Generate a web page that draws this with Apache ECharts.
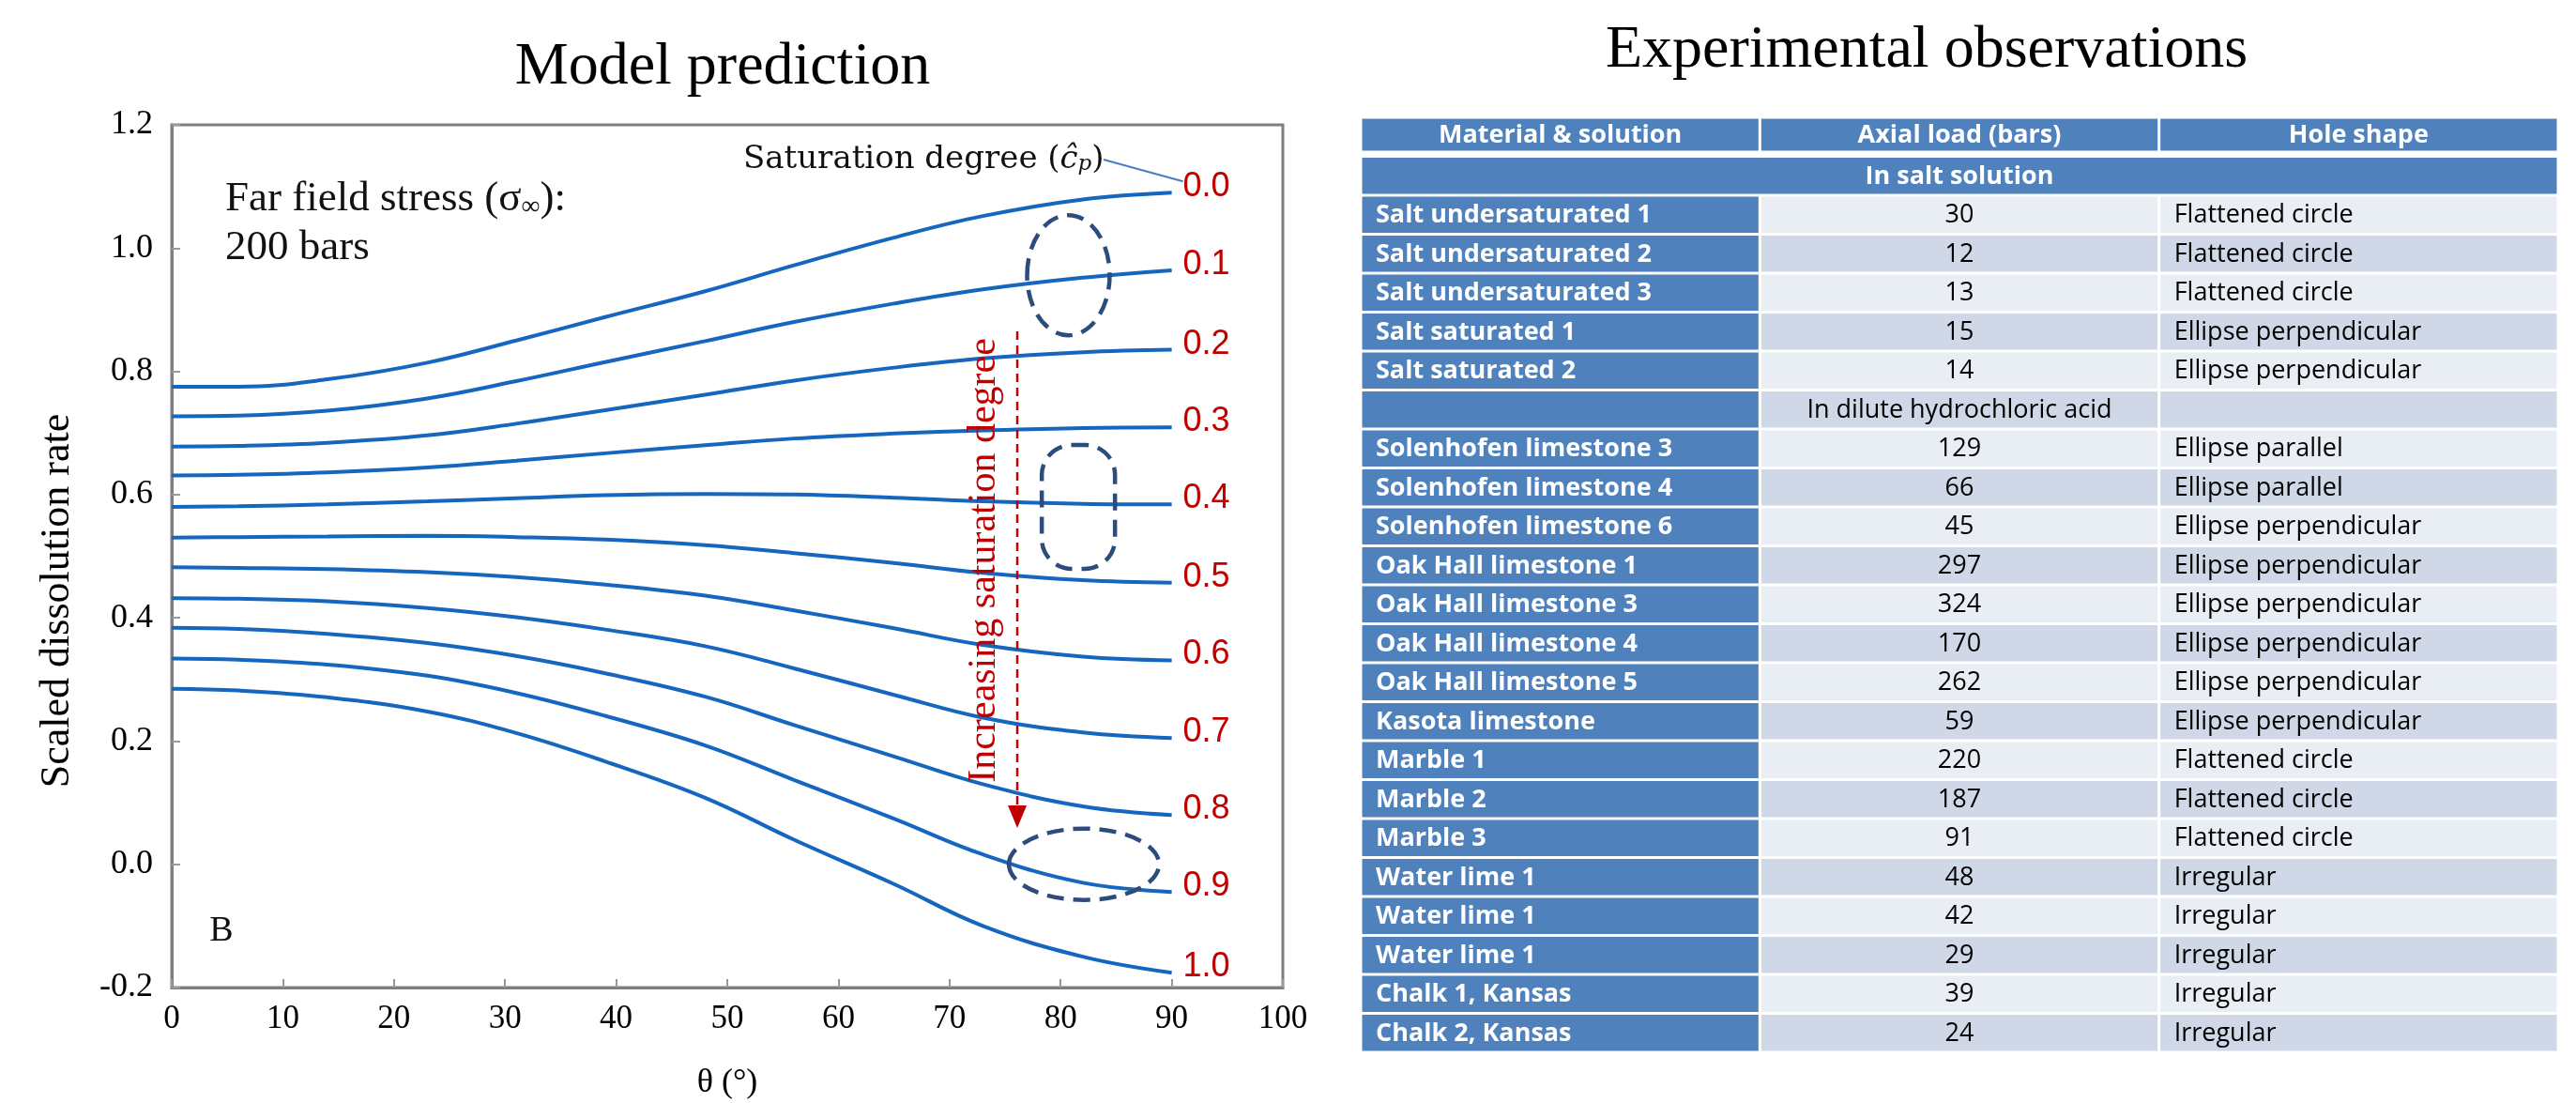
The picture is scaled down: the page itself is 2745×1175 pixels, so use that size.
<!DOCTYPE html>
<html>
<head>
<meta charset="utf-8">
<script src="https://cdn.jsdelivr.net/npm/echarts@6/dist/echarts.min.js"></script>
<style>
  html, body { margin: 0; padding: 0; background: #ffffff; }
  #chart { width: 2745px; height: 1175px; }
</style>
</head>
<body>
<div id="chart"></div>
<script>
// ---- Model prediction: scaled dissolution rate vs. hole angle θ ----
const thetaDeg = [0, 6, 14, 23, 31, 39, 48, 56, 65, 73, 82, 90];
const saturationLevels = ['0.0', '0.1', '0.2', '0.3', '0.4', '0.5', '0.6', '0.7', '0.8', '0.9', '1.0'];
const rateSat00 = [0.775, 0.775, 0.787, 0.814, 0.850, 0.888, 0.930, 0.972, 1.017, 1.052, 1.079, 1.090];
const rateSat01 = [0.727, 0.728, 0.736, 0.756, 0.784, 0.815, 0.849, 0.880, 0.910, 0.933, 0.952, 0.964];
const rateSat02 = [0.678, 0.679, 0.684, 0.696, 0.715, 0.737, 0.762, 0.785, 0.806, 0.821, 0.831, 0.835];
const rateSat03 = [0.631, 0.632, 0.636, 0.644, 0.655, 0.667, 0.680, 0.691, 0.699, 0.704, 0.708, 0.709];
const rateSat04 = [0.580, 0.581, 0.584, 0.589, 0.594, 0.599, 0.601, 0.600, 0.595, 0.589, 0.585, 0.584];
const rateSat05 = [0.530, 0.531, 0.532, 0.533, 0.531, 0.527, 0.518, 0.505, 0.489, 0.473, 0.461, 0.457];
const rateSat06 = [0.482, 0.481, 0.479, 0.474, 0.466, 0.454, 0.436, 0.412, 0.383, 0.356, 0.337, 0.331];
const rateSat07 = [0.432, 0.431, 0.427, 0.416, 0.401, 0.381, 0.354, 0.318, 0.275, 0.238, 0.214, 0.205];
const rateSat08 = [0.384, 0.382, 0.374, 0.359, 0.338, 0.310, 0.272, 0.226, 0.175, 0.130, 0.094, 0.080];
const rateSat09 = [0.334, 0.332, 0.324, 0.306, 0.278, 0.241, 0.193, 0.137, 0.074, 0.016, -0.030, -0.045];
const rateSat10 = [0.285, 0.282, 0.271, 0.248, 0.213, 0.167, 0.108, 0.040, -0.032, -0.100, -0.150, -0.176];
const rateCurves = [rateSat00, rateSat01, rateSat02, rateSat03, rateSat04, rateSat05,
                    rateSat06, rateSat07, rateSat08, rateSat09, rateSat10];
const yTickLabels = ['-0.2', '0.0', '0.2', '0.4', '0.6', '0.8', '1.0', '1.2'];
const xTickLabels = ['0', '10', '20', '30', '40', '50', '60', '70', '80', '90', '100'];

// ---- Experimental observations table ----
const tableHeader = ['Material & solution', 'Axial load (bars)', 'Hole shape'];
const saltGroupLabel = 'In salt solution';
const saltMaterials = ['Salt undersaturated 1', 'Salt undersaturated 2', 'Salt undersaturated 3',
                       'Salt saturated 1', 'Salt saturated 2'];
const saltLoads = [30, 12, 13, 15, 14];
const saltShapes = ['Flattened circle', 'Flattened circle', 'Flattened circle',
                    'Ellipse perpendicular', 'Ellipse perpendicular'];
const acidGroupLabel = 'In dilute hydrochloric acid';
const acidMaterials = ['Solenhofen limestone 3', 'Solenhofen limestone 4', 'Solenhofen limestone 6',
                       'Oak Hall limestone 1', 'Oak Hall limestone 3', 'Oak Hall limestone 4',
                       'Oak Hall limestone 5', 'Kasota limestone', 'Marble 1', 'Marble 2', 'Marble 3',
                       'Water lime 1', 'Water lime 1', 'Water lime 1', 'Chalk 1, Kansas', 'Chalk 2, Kansas'];
const acidLoads = [129, 66, 45, 297, 324, 170, 262, 59, 220, 187, 91, 48, 42, 29, 39, 24];
const acidShapes = ['Ellipse parallel', 'Ellipse parallel', 'Ellipse perpendicular',
                    'Ellipse perpendicular', 'Ellipse perpendicular', 'Ellipse perpendicular',
                    'Ellipse perpendicular', 'Ellipse perpendicular', 'Flattened circle',
                    'Flattened circle', 'Flattened circle', 'Irregular', 'Irregular', 'Irregular',
                    'Irregular', 'Irregular'];

const LINE_BLUE = '#1466bf';
const LABEL_RED = '#c00000';
const NAVY = '#2c4c7c';
const AXIS_GREY = '#7f7f7f';
const HEAD_BLUE = '#4f81bd';
const ROW_LIGHT = '#e9edf4';
const ROW_DARK = '#d0d8e8';
const SERIF = '"Liberation Serif", "DejaVu Serif", serif';
const WIDE_SERIF = '"DejaVu Serif", "Liberation Serif", serif';
const SANS = '"Open Sans", "Liberation Sans", sans-serif';

// Build the table cell list (one entry per drawn cell)
const tableCells = [];
tableHeader.forEach((t, c) => tableCells.push({ row: 0, col: c, span: 1, text: t, kind: 'head' }));
tableCells.push({ row: 1, col: 0, span: 3, text: saltGroupLabel, kind: 'group' });
let row = 2;
function pushRows(names, loads, shapes) {
  names.forEach((n, i) => {
    tableCells.push({ row, col: 0, span: 1, text: n, kind: 'name' });
    tableCells.push({ row, col: 1, span: 1, text: String(loads[i]), kind: 'load' });
    tableCells.push({ row, col: 2, span: 1, text: shapes[i], kind: 'shape' });
    row++;
  });
}
pushRows(saltMaterials, saltLoads, saltShapes);
tableCells.push({ row, col: 0, span: 1, text: '', kind: 'name' });
tableCells.push({ row, col: 1, span: 1, text: acidGroupLabel, kind: 'load' });
tableCells.push({ row, col: 2, span: 1, text: '', kind: 'shape' });
row++;
pushRows(acidMaterials, acidLoads, acidShapes);
const tableRowIds = Array.from({ length: row }, (_, i) => 'row' + i);

function renderCell(params, api) {
  const cell = tableCells[params.dataIndex];
  const p = api.coord([cell.col, cell.row]);
  const size = api.size([1, 1]);
  const w = size[0] * cell.span;
  const h = size[1];
  const x = p[0];
  const top = p[1] - h / 2;
  const bottomGap = cell.row === 0 ? 6 : 1.5;
  const blue = cell.kind === 'head' || cell.kind === 'group' || cell.kind === 'name';
  const fill = blue ? HEAD_BLUE : (cell.row % 2 === 0 ? ROW_LIGHT : ROW_DARK);
  const rect = {
    type: 'rect',
    shape: { x: x + 1.5, y: top + 1.5, width: w - 3, height: h - 1.5 - bottomGap },
    style: { fill: fill }
  };
  const align = (cell.kind === 'name' || cell.kind === 'shape') ? 'left' : 'center';
  const tx = align === 'left' ? x + 16 : x + w / 2;
  const text = {
    type: 'text',
    style: {
      text: cell.text,
      x: tx,
      y: top + 1.5 + (h - 1.5 - bottomGap) / 2 + 1,
      align: align,
      verticalAlign: 'middle',
      fill: blue ? '#ffffff' : '#000000',
      fontFamily: SANS,
      fontSize: 27,
      fontWeight: blue ? 'bold' : 'normal'
    }
  };
  return { type: 'group', children: [rect, text] };
}

const chart = echarts.init(document.getElementById('chart'), null, { renderer: 'canvas' });

const lineSeries = rateCurves.map((vals, i) => ({
  name: saturationLevels[i],
  type: 'line',
  xAxisIndex: 0,
  yAxisIndex: 0,
  data: thetaDeg.map((t, k) => [t, vals[k]]),
  smooth: 0.4,
  showSymbol: false,
  symbol: 'none',
  lineStyle: { color: LINE_BLUE, width: 4 },
  emphasis: { disabled: true },
  z: 3,
  endLabel: {
    show: true,
    formatter: '{a}',
    color: LABEL_RED,
    fontFamily: '"Liberation Sans", Arial, sans-serif',
    fontSize: 36,
    distance: 12,
    offset: [0, -6]
  }
}));

chart.setOption({
  animation: false,
  backgroundColor: '#ffffff',
  grid: [
    { left: 183, top: 133, width: 1184, height: 919, show: true, outerBoundsMode: 'none',
      borderColor: AXIS_GREY, borderWidth: 3, backgroundColor: 'transparent', containLabel: false },
    { left: 1450, top: 125, width: 1276, height: 996, show: false, outerBoundsMode: 'none',
      containLabel: false }
  ],
  xAxis: [
    {
      gridIndex: 0, type: 'value', min: 0, max: 100, interval: 10,
      name: 'θ (°)', nameLocation: 'middle', nameGap: 84,
      nameTextStyle: { fontFamily: SERIF, fontSize: 36, color: '#000' },
      axisLine: { show: true, onZero: false, lineStyle: { color: AXIS_GREY, width: 3 } },
      axisTick: { show: true, inside: true, length: 9, lineStyle: { color: '#999999', width: 2 } },
      axisLabel: { margin: 16, fontFamily: SERIF, fontSize: 35, color: '#000',
                   formatter: (v) => xTickLabels[Math.round(v / 10)] },
      splitLine: { show: false }
    },
    { gridIndex: 1, type: 'value', min: 0, max: 3, show: false }
  ],
  yAxis: [
    {
      gridIndex: 0, type: 'value', min: -0.2, max: 1.2, interval: 0.2,
      axisLine: { show: true, onZero: false, lineStyle: { color: AXIS_GREY, width: 3 } },
      axisTick: { show: true, inside: true, length: 9, lineStyle: { color: '#999999', width: 2 } },
      axisLabel: { margin: 20, fontFamily: SERIF, fontSize: 36, color: '#000',
                   formatter: (v) => yTickLabels[Math.round((v + 0.2) / 0.2)] },
      splitLine: { show: false }
    },
    { gridIndex: 1, type: 'category', data: tableRowIds, inverse: true, show: false }
  ],
  series: lineSeries.concat([{
    type: 'custom',
    name: 'observations',
    xAxisIndex: 1,
    yAxisIndex: 1,
    renderItem: renderCell,
    data: tableCells.map(c => [c.col, c.row]),
    silent: true
  }])
});

// ---- annotations anchored to the plot's data coordinates ----
function px(theta, value) {
  return chart.convertToPixel({ gridIndex: 0 }, [theta, value]);
}
const ringA = px(80.7, 0.956);
const ringB = px(81.6, 0.580);
const ringC = px(82.1, 0.0);
const arrowTop = px(76.1, 0.865);
const arrowTip = px(76.1, 0.059);
const firstEnd = px(thetaDeg[thetaDeg.length - 1], rateSat00[rateSat00.length - 1]);
const dashStyle = { fill: null, stroke: NAVY, lineWidth: 4.5, lineDash: [18, 10] };

chart.setOption({
  graphic: [
    { type: 'text', x: 770, y: 72, style: { text: 'Model prediction', fontFamily: SERIF, fontSize: 64,
      fill: '#000', align: 'center', verticalAlign: 'middle' } },
    { type: 'text', x: 2053, y: 54, style: { text: 'Experimental observations', fontFamily: SERIF,
      fontSize: 64, fill: '#000', align: 'center', verticalAlign: 'middle' } },
    { type: 'text', x: 61, y: 640, rotation: Math.PI / 2,
      style: { text: 'Scaled dissolution rate', fontFamily: SERIF, fontSize: 44, fill: '#000',
        align: 'center', verticalAlign: 'middle' } },
    { type: 'text', x: 240, y: 212, z: 10,
      style: { text: '{t|Far field stress (σ}{s|∞}{t|):}', verticalAlign: 'middle',
        rich: { t: { fontFamily: SERIF, fontSize: 45, fill: '#111' },
                s: { fontFamily: SERIF, fontSize: 28, fill: '#111', verticalAlign: 'bottom' } } } },
    { type: 'text', x: 240, y: 264, z: 10,
      style: { text: '200 bars', fontFamily: SERIF, fontSize: 45, fill: '#111', verticalAlign: 'middle' } },
    { type: 'text', x: 236, y: 992, z: 10,
      style: { text: 'B', fontFamily: SERIF, fontSize: 38, fill: '#111', align: 'center', verticalAlign: 'middle' } },
    { type: 'text', x: 792, y: 170, z: 10,
      style: { text: '{t|Saturation degree (}{i|ĉ}{p|p}{t|)}', verticalAlign: 'middle',
        rich: { t: { fontFamily: WIDE_SERIF, fontSize: 34, fill: '#111' },
                i: { fontFamily: WIDE_SERIF, fontSize: 34, fontStyle: 'italic', fill: '#111' },
                p: { fontFamily: WIDE_SERIF, fontSize: 23, fontStyle: 'italic', fill: '#111', verticalAlign: 'bottom' } } } },
    { type: 'line', z: 10, shape: { x1: 1176, y1: 170, x2: firstEnd[0] + 12, y2: firstEnd[1] - 12 },
      style: { stroke: '#4a7ec2', lineWidth: 2 } },
    { type: 'ellipse', z: 8, shape: { cx: ringA[0], cy: ringA[1], rx: 44, ry: 64 }, style: dashStyle },
    { type: 'rect', z: 8, shape: { x: ringB[0] - 39, y: ringB[1] - 66, width: 78, height: 132, r: 32 }, style: dashStyle },
    { type: 'ellipse', z: 8, shape: { cx: ringC[0], cy: ringC[1], rx: 80, ry: 38 }, style: dashStyle },
    { type: 'line', z: 9, shape: { x1: arrowTop[0], y1: arrowTop[1], x2: arrowTip[0], y2: arrowTip[1] - 20 },
      style: { stroke: LABEL_RED, lineWidth: 2.5, lineDash: [9, 6] } },
    { type: 'polygon', z: 9, shape: { points: [[arrowTip[0] - 10, arrowTip[1] - 24], [arrowTip[0] + 10, arrowTip[1] - 24], [arrowTip[0], arrowTip[1]]] },
      style: { fill: LABEL_RED } },
    { type: 'text', x: arrowTop[0] - 35, y: arrowTop[1] + 244, rotation: Math.PI / 2, z: 9,
      style: { text: 'Increasing saturation degree', fontFamily: SERIF, fontSize: 42, fill: LABEL_RED,
        align: 'center', verticalAlign: 'middle' } }
  ]
});
</script>
</body>
</html>
